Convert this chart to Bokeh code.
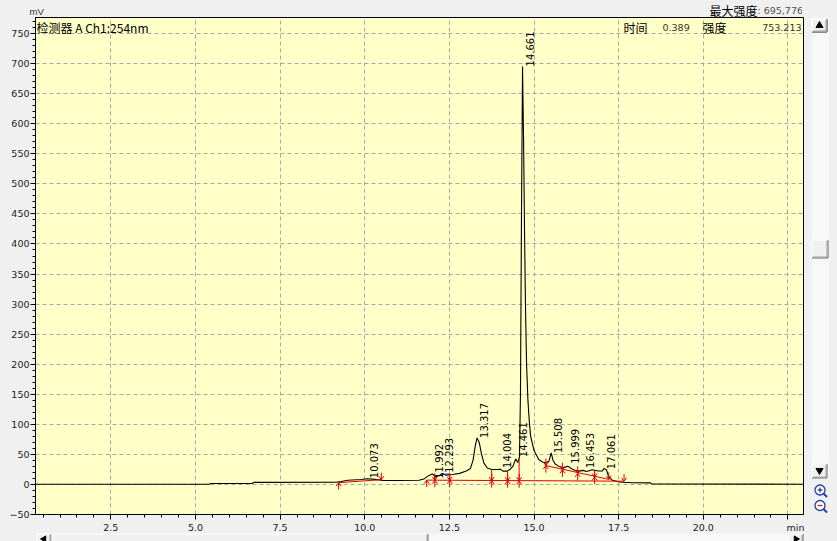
import numpy as np
from bokeh.plotting import figure
from bokeh.layouts import column
from bokeh.models import Label, FixedTicker, Range1d
from bokeh.core.properties import value
from bokeh.embed import file_html
from bokeh.resources import INLINE

# ---------------- data ----------------
trace_time = [0.27, 5.40, 5.45, 6.68, 6.72, 9.15, 9.30, 9.50, 9.90, 10.073, 10.30, 10.55,
              11.00, 11.60, 11.75, 11.85, 11.992, 12.10, 12.20, 12.293, 12.40, 12.60, 12.80,
              13.00, 13.12, 13.20, 13.26, 13.317, 13.38, 13.45, 13.52, 13.62, 13.75, 13.95,
              14.004, 14.08, 14.20, 14.30, 14.38, 14.461, 14.52, 14.57, 14.60, 14.63, 14.661,
              14.69, 14.72, 14.75, 14.78, 14.82, 14.86, 14.90, 15.00, 15.14, 15.25, 15.34,
              15.44, 15.508, 15.56, 15.62, 15.72, 15.88, 15.999, 16.10, 16.20, 16.33, 16.453,
              16.55, 16.72, 16.90, 17.02, 17.061, 17.14, 17.20, 17.30, 17.45, 17.60, 17.90,
              18.44, 18.47, 22.96]
trace_mv = [0, 0, 1.2, 1.2, 3.0, 3.3, 4.5, 6.5, 7.8, 9.0, 8.0, 6.0,
            6.0, 6.5, 8.5, 13, 17, 13, 14, 18, 15, 16, 18,
            22, 26, 40, 62, 77, 70, 50, 35, 27, 24.5, 24.5,
            25, 21.7, 21.7, 25, 30, 42, 36, 45, 150, 450, 695.776,
            580, 420, 290, 200, 140, 105, 80, 56, 41, 37, 35.5,
            38, 52, 40, 34, 30, 27.5, 30, 26, 23, 21.7, 23,
            21, 24, 22, 22, 26, 24, 13, 7, 4.5, 3.3, 2.5,
            2.2, 0.3, 0]

peak_rt = [10.073, 11.992, 12.293, 13.317, 14.004, 14.461, 14.661, 15.508, 15.999, 16.453, 17.061]
peak_label = ["10.073", "11.992", "12.293", "13.317", "14.004", "14.461", "14.661",
              "15.508", "15.999", "16.453", "17.061"]
peak_height = [10, 9, 19, 77, 27, 45, 695.776, 52, 34, 27, 25]

event_time = [9.23, 10.49, 11.83, 12.07, 12.51, 13.75, 14.22, 14.56, 15.35, 15.84, 16.29, 16.79, 17.21, 17.66]
event_level = [2.5, 7.5, 6.7, 6.6, 6.5, 6.0, 5.8, 5.6, 31, 24, 18, 12, 8, 5]
event_kind = ["up", "down", "up", "both", "both", "both", "both", "both",
              "both", "both", "both", "both", "down", "down"]

base_t0 = [9.23, 11.83, 15.35]
base_y0 = [2.5, 6.7, 31]
base_t1 = [10.49, 17.66, 17.21]
base_y1 = [7.5, 5.0, 8]

blue_t = [12.22, 12.52]
blue_mv = [16.5, 17.0]

x_ticks = [2.5, 5.0, 7.5, 10.0, 12.5, 15.0, 17.5, 20.0, 22.5]
x_tick_labels = ["2.5", "5.0", "7.5", "10.0", "12.5", "15.0", "17.5", "20.0", "\u00a0" * 5 + "min"]
x_minor = [0.5 * i for i in range(1, 46)]
y_ticks = list(range(-50, 751, 50))
y_minor = list(range(-50, 771, 10))

unit_label = "mV"
detector_text = "检测器 A Ch1:254nm"
max_label = "最大强度"
max_value = ": 695,776"
time_label, time_value = "时间", "0.389"
int_label, int_value = "强度", "753.213"

# ---------------- layout constants ----------------
W, H = 837, 541
X0, X1 = 0.275, 22.96
Y0, Y1 = -50.5, 777.2
FW, FH = 768, 497
L, T = 35, 17               # frame left / top on canvas
B = T + FH                  # frame bottom on canvas (514)
RED = "#E00000"
TICKFONT = "DejaVu Sans"
CJK = "Noto Sans CJK SC"
BG = "#F0F0F0"

p = figure(frame_width=FW, frame_height=FH,
           x_range=Range1d(X0, X1), y_range=Range1d(Y0, Y1),
           output_backend="svg", toolbar_location=None,
           min_border_left=L, min_border_right=W - L - FW,
           min_border_top=T, min_border_bottom=H - B)
p.background_fill_color = "#FFFFC8"
p.border_fill_color = BG
p.outline_line_color = "black"
p.outline_line_width = 1

p.xaxis.ticker = FixedTicker(ticks=x_ticks, minor_ticks=x_minor)
p.xaxis.major_label_overrides = {t: s for t, s in zip(x_ticks, x_tick_labels)}
p.yaxis.ticker = FixedTicker(ticks=y_ticks, minor_ticks=y_minor)
for ax in (p.xaxis[0], p.yaxis[0]):
    ax.axis_line_color = "black"
    ax.major_tick_in = 0
    ax.major_tick_out = 5
    ax.minor_tick_in = 0
    ax.minor_tick_out = 3
    ax.major_tick_line_color = "black"
    ax.minor_tick_line_color = "black"
    ax.major_label_text_font = TICKFONT
    ax.major_label_text_font_size = "9.5px"
    ax.major_label_text_color = "#222222"
p.xaxis.major_label_standoff = 2
p.yaxis.major_label_standoff = 1

p.grid.grid_line_color = "#A8A8A8"
p.grid.grid_line_dash = "4 3"
p.grid.grid_line_width = 1

# chromatogram
p.line(trace_time, trace_mv, color="black", line_width=1.1)

# integration baselines
p.segment(base_t0, base_y0, base_t1, base_y1, color=RED, line_width=1)
p.line(blue_t, blue_mv, color="#2020FF", line_width=1)

# integration event marks (pixel sizes converted to data units)
SX = (X1 - X0) / FW
SY = (Y1 - Y0) / FH
AL, AH, AW = 7, 3.5, 2.5
xs, ys = [], []
for t, b, k in zip(event_time, event_level, event_kind):
    if k in ("up", "both"):
        xs += [[t, t], [t - AW * SX, t, t + AW * SX]]
        ys += [[b - AL * SY, b], [b - AH * SY, b, b - AH * SY]]
    if k in ("down", "both"):
        xs += [[t, t], [t - AW * SX, t, t + AW * SX]]
        ys += [[b + AL * SY, b], [b + AH * SY, b, b + AH * SY]]
    if k == "both":
        top = float(np.interp(t, trace_time, trace_mv))
        if top > b:
            xs.append([t, t])
            ys.append([b, top])
p.multi_line(xs, ys, color=RED, line_width=1)

# peak labels
p.text(x=peak_rt, y=peak_height, text=peak_label, angle=np.pi / 2,
       text_align="left", text_baseline="middle", x_offset=7,
       text_font=value(TICKFONT), text_font_size="10px", text_color="black")


def lab(text, cx, cy, size="10px", font=TICKFONT, color="#222222", align="left"):
    p.add_layout(Label(x=cx - L, y=B - cy, x_units="screen", y_units="screen", text=text,
                       text_font=font, text_font_size=size, text_color=color,
                       text_align=align, text_baseline="alphabetic"))


lab(detector_text, 36, 26.5, size="12px", font=CJK, color="black")
lab(time_label, 623, 26.5, size="12px", font=CJK, color="black")
lab(time_value, 662, 27, size="9.5px", color="#333333")
lab(int_label, 702, 26.5, size="12px", font=CJK, color="black")
lab(int_value, 801, 27, size="9.5px", color="#333333", align="right")


# ---------------- window chrome: transparent overlays in pixel coordinates ----------------
# The column aligns every overlay frame with the main frame (L px from the host's left).
def overlay(cx0, left_css, z):
    f = figure(frame_width=W, frame_height=H, x_range=Range1d(cx0, cx0 + W), y_range=Range1d(H, 0),
               output_backend="svg", toolbar_location=None,
               x_axis_location=None, y_axis_location=None,
               min_border_left=0, min_border_right=0, min_border_top=0, min_border_bottom=0,
               styles={"position": "absolute", "top": "0px", "left": left_css, "z-index": z})
    f.grid.visible = False
    f.outline_line_color = None
    f.background_fill_alpha = 0
    f.border_fill_alpha = 0
    return f


def bevel(f, x0, y0, x1, y1, face=BG):
    f.quad(left=x0, right=x1, top=y0, bottom=y1, fill_color=face, line_color=None)
    f.segment([x0, x0], [y0, y0], [x1, x0], [y0, y1], color="white", line_width=1)
    f.segment([x0, x1], [y1, y0], [x1, x1], [y1, y1], color="#696969", line_width=1)
    f.segment([x0 + 1, x1 - 1], [y1 - 1, y0 + 1], [x1 - 1, x1 - 1], [y1 - 1, y1 - 1],
              color="#A0A0A0", line_width=1)


def up_button(f):
    bevel(f, 811.5, 18.5, 826.5, 31.5)
    f.scatter(x=[819], y=[25], marker="triangle", size=7, fill_color="black", line_color="black")


# left overlay: its frame starts at window x = 0
ovl = overlay(0, "-%dpx" % L, "1")
ovl.text(x=[29], y=[11], text=[unit_label], text_font=value("Liberation Sans"),
         text_font_size="9.5px", text_color="#333333", text_baseline="middle")
ovl.text(x=[709], y=[9.5], text=[max_label], text_font=value(CJK),
         text_font_size="12px", text_color="black", text_baseline="middle")
ovl.text(x=[757], y=[10], text=[max_value], text_font=value(TICKFONT),
         text_font_size="9.5px", text_color="#505050", text_baseline="middle")

# right overlay: its frame starts at window x = L
ovr = overlay(L, "0px", "2")
ovr.quad(left=811.5, right=828.5, top=18, bottom=478, fill_color="#F8F8F8", line_color=None)
up_button(ovr)
bevel(ovr, 811.5, 463.5, 826.5, 477.5)
bevel(ovr, 811.5, 239.5, 827.5, 257.5)
ovr.scatter(x=[819], y=[470], marker="inverted_triangle",
            size=7, fill_color="black", line_color="black")
ovr.scatter(x=[819.5, 819.5], y=[489.5, 505], marker="circle", size=10,
            fill_color="#FFFFFF", line_color="#1F3F9F", line_width=1.3)
ovr.segment([817, 819.5, 817], [489.5, 487, 505], [822, 819.5, 822], [489.5, 492, 505],
            color=["#1F3F9F", "#1F3F9F", "#D02020"], line_width=1.3)
ovr.segment([823, 823], [493, 508.5], [826.5, 826.5], [496.5, 512], color="#1F3F9F", line_width=2)

# bottom scrollbar
ovr.quad(left=50, right=788, top=533, bottom=545, fill_color="#F8F8F8", line_color=None)
bevel(ovr, 36.5, 533.5, 50.5, 546)
bevel(ovr, 51.5, 533.5, 427.5, 546)
bevel(ovr, 788.5, 533.5, 802.5, 546)
ovr.scatter(x=[43.5, 795.5], y=[538.5, 538.5], marker="triangle", angle=[np.pi / 2, -np.pi / 2],
            size=6, fill_color="black", line_color="black")

# topmost overlay that repeats the scrollbar's up button
ovt = overlay(L, "0px", "3")
up_button(ovt)

layout = column(p, ovl, ovr, ovt)
html = file_html(layout, INLINE)
html = html.replace("</head>",
                    "<style>html,body{margin:0;padding:0;background:#F0F0F0;overflow:hidden}</style></head>", 1)
open("out.html", "w").write(html)
